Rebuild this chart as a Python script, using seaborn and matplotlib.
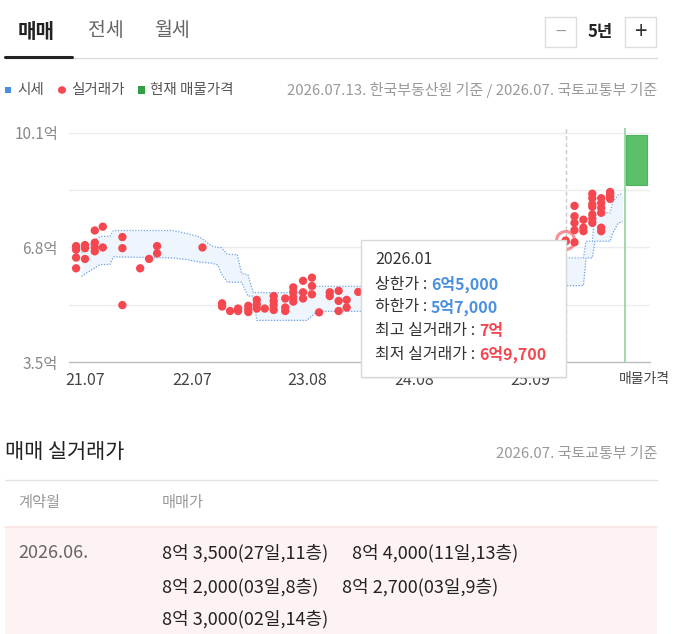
import numpy as np
import pandas as pd
import matplotlib
matplotlib.use("Agg")
import matplotlib.pyplot as plt
from matplotlib.patches import Rectangle, Circle
from matplotlib.lines import Line2D
import seaborn as sns

sns.set_theme(style="white")
plt.rcParams['font.family'] = ['Noto Sans CJK KR', 'DejaVu Sans']

# ---------------- data ----------------
# x positions are months since 2021.07
x_tick_labels = ["21.07", "22.07", "23.08", "24.08", "25.09"]
y_label_values = [3.5, 6.8, 10.1]
y_grid_values = [3.5, 5.15, 6.8, 8.45, 10.1]

deal_months = [-1, 0, 1.1, 2, 4.2, 6.2, 7.2, 8.1, 13.2,
               15.4, 16.3, 17.2, 18.35, 19.3, 20.2, 21.2, 22.5, 23.4, 24.5,
               25.5, 26.3, 27.5, 28.5, 29.4, 30.7,
               54, 55, 56, 57, 58, 59]
deal_prices = [
    [6.84, 6.74, 6.51, 6.2],
    [6.87, 6.78, 6.47],
    [7.29, 6.94, 6.8, 6.69],
    [7.4, 6.8],
    [7.1, 6.78, 5.14],
    [6.2],
    [6.47],
    [6.84, 6.63],
    [6.8],
    [5.19, 5.1],
    [4.97],
    [5.04, 4.97],
    [5.12, 5.02, 4.94],
    [5.29, 5.16, 5.04],
    [5.04],
    [5.4, 5.26, 5.14, 5.0],
    [5.33, 5.07, 4.97],
    [5.65, 5.51, 5.36, 5.24],
    [5.84, 5.51, 5.33],
    [5.93, 5.69, 5.45],
    [4.93],
    [5.51, 5.4],
    [5.55, 5.26, 4.97],
    [5.29, 5.07],
    [5.52],
    [7.0, 6.97],
    [8.0, 7.7, 7.51, 7.3, 6.95],
    [7.6, 7.37, 7.27],
    [8.35, 8.22, 8.05, 7.97, 7.75, 7.63, 7.51],
    [8.22, 8.08, 7.94, 7.8, 7.37, 7.27],
    [8.35, 8.4, 8.2, 8.27, 8.3],
]

band_months = [-0.4, 0.4, 1.7, 2.8, 3.2, 9.8, 11.5, 12.9, 14.2, 14.9, 15.3, 16.0,
               17.1, 17.6, 18.3, 18.9, 19.3, 24.9, 25.6, 26.1, 45.0, 47.5, 52.0,
               56.0, 56.3, 57.0, 57.3, 59.0, 59.3, 59.9, 60.4]
band_upper = [6.65, 6.85, 7.12, 7.12, 7.29, 7.29, 7.2, 7.1, 6.85, 6.8, 6.8, 6.6,
              6.6, 6.05, 6.02, 5.5, 5.5, 5.5, 5.6, 5.68, 5.68, 6.0, 6.5,
              6.5, 6.98, 6.98, 7.8, 7.8, 8.1, 8.32, 8.35]
band_lower = [5.97, 6.1, 6.31, 6.31, 6.53, 6.5, 6.45, 6.38, 6.35, 6.3, 6.05, 5.8,
              5.8, 5.8, 5.4, 5.4, 4.7, 4.7, 4.85, 4.96, 4.96, 5.3, 5.7,
              5.7, 6.5, 6.5, 6.98, 6.98, 7.22, 7.5, 7.55]

hover_month = 54
hover_price = 7.0
listing_month = 60.7
listing_width = 2.3
listing_low = 8.6
listing_high = 10.05

tooltip_title = "2026.01"
tooltip_labels = ["상한가 : ", "하한가 : ", "최고 실거래가 : ", "최저 실거래가 : "]
tooltip_values = ["6억5,000", "5억7,000", "7억", "6억9,700"]

table_month = "2026.06."
table_entries = ["8억 3,500(27일,11층)", "8억 4,000(11일,13층)",
                 "8억 2,000(03일,8층)", "8억 2,700(03일,9층)",
                 "8억 3,000(02일,14층)"]

# ---------------- figure ----------------
W, H = 673, 634
fig = plt.figure(figsize=(W / 100, H / 100), dpi=100)
fig.patch.set_facecolor("white")

def fx(x):
    return x / W

def fy(y):
    return 1 - y / H

RED = "#f5474f"
BLUE = "#4a90e2"
GREEN = "#5cbf6a"
GRAY_TXT = "#999999"

ax = fig.add_axes([fx(69), fy(362), fx(650) - fx(69), (362 - 128) / H])
ax.set_xlim((69 - 85) / 8.9, (650 - 85) / 8.9)
ax.set_ylim(3.5, 10.1 + 5 / 34.85)

for g in y_grid_values[1:]:
    ax.axhline(g, color="#ececec", lw=1, zorder=0)

# band (시세)
ax.fill_between(band_months, band_lower, band_upper, color="#eef5fd", zorder=1, lw=0)
ax.plot(band_months, band_upper, color="#6fa3e8", lw=0.9, ls=(0, (1, 1.3)), zorder=2)
ax.plot(band_months, band_lower, color="#6fa3e8", lw=0.9, ls=(0, (1, 1.3)), zorder=2)

# deals (실거래가)
rows = []
for m, ps in zip(deal_months, deal_prices):
    for p in ps:
        rows.append({"month": m, "price": p})
df = pd.DataFrame(rows)
sns.scatterplot(data=df, x="month", y="price", color=RED, s=36, edgecolor="none",
                ax=ax, zorder=4, legend=False)

# hover line & ring
ax.axvline(hover_month, color="#c8c8c8", lw=1, ls=(0, (3, 2)), zorder=1)
ax.scatter([hover_month], [hover_price], s=170, facecolor="none", edgecolor=RED,
           linewidth=2.2, alpha=0.6, zorder=5)

# listing (현재 매물가격)
ax.axvline(listing_month, color="#8fd49a", lw=1.2, zorder=3)
ax.bar([listing_month + 0.1], [listing_high - listing_low], bottom=[listing_low],
       width=listing_width, align="edge", color=GREEN, edgecolor="#4fb35e",
       lw=0.8, zorder=3)

for s in ["top", "right", "left"]:
    ax.spines[s].set_visible(False)
ax.spines["bottom"].set_color("#bdbdbd")
ax.spines["bottom"].set_linewidth(1)

tick_pos = [(int(l[:2]) - 21) * 12 + (int(l[3:]) - 7) for l in x_tick_labels]
ax.set_xticks(tick_pos)
ax.set_xticklabels(x_tick_labels, fontsize=11.5, color="#444444")
ax.tick_params(axis="x", length=0, pad=7)
ax.set_yticks(y_label_values)
ax.set_yticklabels([f"{v:.1f}억" for v in y_label_values], fontsize=11, color="#888888")
ax.tick_params(axis="y", length=0, pad=8)
ax.set_xlabel("")
ax.set_ylabel("")
fig.text(fx(619), fy(379), "매물가격", fontsize=10, color="#444444", ha="left", va="center")

# ---------------- tooltip ----------------
fig.add_artist(Rectangle((fx(363), fy(379)), fx(566) - fx(363), (379 - 242) / H,
                         transform=fig.transFigure, facecolor="#000000", alpha=0.06,
                         edgecolor="none", zorder=9))
fig.add_artist(Rectangle((fx(361), fy(377)), fx(566) - fx(361), (377 - 240) / H,
                         transform=fig.transFigure, facecolor="white",
                         edgecolor="#d9d9d9", lw=1, zorder=10))
fig.text(fx(375), fy(259), tooltip_title, fontsize=11.5, color="#333333",
         ha="left", va="center", zorder=11)
line_y = [284, 307, 331, 354]
val_colors = [BLUE, BLUE, RED, RED]
for lab, val, yy, col in zip(tooltip_labels, tooltip_values, line_y, val_colors):
    t = fig.text(fx(375), fy(yy), lab, fontsize=11.5, color="#333333",
                 ha="left", va="center", zorder=11)
    an = matplotlib.text.Annotation(val, xy=(1, 0.5), xycoords=t, xytext=(0, 0),
                                    textcoords="offset points", fontsize=11.5, color=col,
                                    fontweight="bold", ha="left", va="center",
                                    annotation_clip=False)
    an.set_zorder(11)
    fig.add_artist(an)

# ---------------- header UI ----------------
fig.text(fx(18), fy(31), "매매", fontsize=14.5, fontweight="bold", color="#222222",
         ha="left", va="center")
fig.text(fx(88), fy(31), "전세", fontsize=14, color="#666666", ha="left", va="center")
fig.text(fx(154), fy(31), "월세", fontsize=14, color="#666666", ha="left", va="center")
fig.add_artist(Line2D([fx(5), fx(657)], [fy(57.5), fy(57.5)], color="#dddddd", lw=1,
                      transform=fig.transFigure))
fig.add_artist(Line2D([fx(5), fx(72)], [fy(57), fy(57)], color="#222222", lw=2.2,
                      transform=fig.transFigure))
for bx in (545, 625):
    fig.add_artist(Rectangle((fx(bx), fy(47)), 31 / W, 30 / H, transform=fig.transFigure,
                             facecolor="white", edgecolor="#dddddd", lw=1))
fig.text(fx(560.5), fy(32), "−", fontsize=14, color="#999999", ha="center", va="center")
fig.text(fx(640.5), fy(32), "+", fontsize=16, color="#333333", ha="center", va="center")
fig.text(fx(600), fy(32), "5년", fontsize=12, color="#222222", fontweight="bold",
         ha="center", va="center")

# legend row
fig.add_artist(Rectangle((fx(5), fy(93)), 6 / W, 6 / H, transform=fig.transFigure,
                         facecolor=BLUE, edgecolor="none"))
fig.text(fx(17), fy(90), "시세", fontsize=10.5, color="#555555", ha="left", va="center")
fig.add_artist(Circle((fx(62), fy(90)), 4 / W, transform=fig.transFigure,
                      facecolor=RED, edgecolor="none"))
fig.text(fx(71), fy(90), "실거래가", fontsize=10.5, color="#555555", ha="left", va="center")
fig.add_artist(Rectangle((fx(138), fy(93.5)), 7 / W, 7 / H, transform=fig.transFigure,
                         facecolor="#2ea043", edgecolor="none"))
fig.text(fx(150), fy(90), "현재 매물가격", fontsize=10.5, color="#555555", ha="left", va="center")
fig.text(fx(657), fy(90), "2026.07.13. 한국부동산원 기준 / 2026.07. 국토교통부 기준",
         fontsize=10.8, color=GRAY_TXT, ha="right", va="center")

# ---------------- table ----------------
fig.text(fx(5), fy(452), "매매 실거래가", fontsize=15, color="#222222", ha="left", va="center")
fig.text(fx(657), fy(454), "2026.07. 국토교통부 기준", fontsize=10.8, color=GRAY_TXT,
         ha="right", va="center")
fig.add_artist(Line2D([fx(5), fx(657)], [fy(480), fy(480)], color="#e3e3e3", lw=1,
                      transform=fig.transFigure))
fig.text(fx(18), fy(503), "계약월", fontsize=11, color=GRAY_TXT, ha="left", va="center")
fig.text(fx(162), fy(503), "매매가", fontsize=11, color=GRAY_TXT, ha="left", va="center")
fig.add_artist(Rectangle((fx(5), 0), fx(657) - fx(5), fy(527), transform=fig.transFigure,
                         facecolor="#fdf3f3", edgecolor="none"))
fig.add_artist(Line2D([fx(5), fx(657)], [fy(527), fy(527)], color="#fbe4e4", lw=1.2,
                      transform=fig.transFigure))
fig.text(fx(18), fy(553), table_month, fontsize=13, color="#666666", ha="left", va="center")
entry_pos = [(162, 553), (352, 553), (162, 587), (342, 587), (162, 619)]
for txt, (px, py) in zip(table_entries, entry_pos):
    fig.text(fx(px), fy(py), txt, fontsize=13, color="#222222", ha="left", va="center")

fig.savefig("out.png", dpi=100, facecolor="white")
